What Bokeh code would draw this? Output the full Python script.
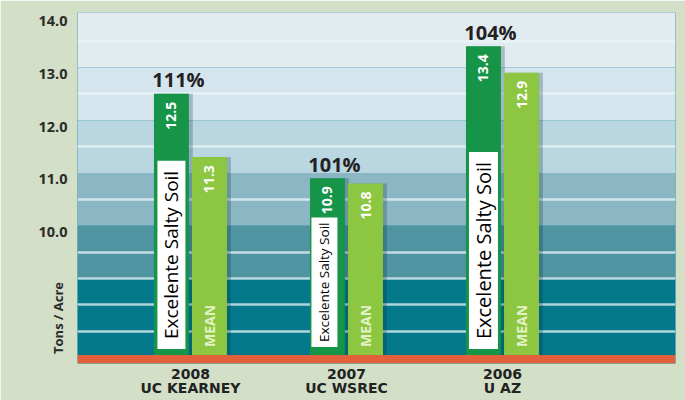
import math
from bokeh.plotting import figure
from bokeh.models import ColumnDataSource, FixedTicker, Range1d, CDSView, IndexFilter
from bokeh.core.properties import value
from bokeh.embed import file_html
from bokeh.resources import INLINE
from bokeh.transform import dodge

# ---- data ----
years = ["2008", "2007", "2006"]
sites = ["UC KEARNEY", "UC WSREC", "U AZ"]
variety_yield = [12.5, 10.9, 13.4]
mean_yield = [11.3, 10.8, 12.9]
variety_label = "Excelente Salty Soil"
mean_label = "MEAN"
y_tick_values = [10, 11, 12, 13, 14]
y_tick_labels = ["10.0", "11.0", "12.0", "13.0", "14.0"]
axis_title = "Tons / Acre"

# ---- background bands ----
band_tops = [14.1, 13, 12, 11, 10, 9]
band_bottoms = [13, 12, 11, 10, 9, 7.55]
band_colors = ["#e2ebef", "#d5e5ed", "#bad6e1", "#8bb7c4", "#5093a1", "#04798c"]
stripe_levels = [13.5, 12.5, 11.5, 10.5, 9.5, 9.0, 8.5, 8.0]
name_font_sizes = ["19px", "13.5px", "20px"]

pos = list(range(len(years)))
pct = [f"{round(v / m * 100)}%" for v, m in zip(variety_yield, mean_yield)]

X0, X1 = -0.724, 3.109
Y0, Y1 = 7.39, 14.04
BASE = 7.55
OFF = 0.122
W = 0.224
DARK = "#169447"
LIGHT = "#8dc641"

src = ColumnDataSource(dict(
    x=pos,
    variety=variety_yield,
    mean=mean_yield,
    vlab=[f"{v:.1f}" for v in variety_yield],
    mlab=[f"{v:.1f}" for v in mean_yield],
    pct=pct,
    vname=[variety_label] * len(pos),
    mname=[mean_label] * len(pos),
    vfs=name_font_sizes,
))

p = figure(width=685, height=400, x_range=Range1d(X0, X1), y_range=Range1d(Y0, Y1),
           output_backend="svg", toolbar_location=None,
           min_border_left=77, min_border_right=10, min_border_top=12, min_border_bottom=37)
p.background_fill_color = "#04798c"
p.border_fill_color = "#d3dfc7"
p.outline_line_color = None
p.xgrid.visible = False
p.ygrid.visible = False

# bands
p.quad(left=X0, right=X1, top=band_tops, bottom=band_bottoms,
       fill_color=band_colors, line_color=None)
p.hspan(y=stripe_levels, line_color="#e9f5f8", line_alpha=0.75, line_width=2.5)
p.quad(left=X0, right=X1, top=BASE, bottom=Y0, fill_color="#e2603c", line_color=None)

# shadows
p.vbar(x=dodge("x", -OFF + 0.025, range=p.x_range), top="variety", bottom=BASE, width=W,
       source=src, fill_color="#00303a", fill_alpha=0.25, line_color=None)
p.vbar(x=dodge("x", OFF + 0.025, range=p.x_range), top="mean", bottom=BASE, width=W,
       source=src, fill_color="#00303a", fill_alpha=0.25, line_color=None)
# bars
p.vbar(x=dodge("x", -OFF, range=p.x_range), top="variety", bottom=BASE, width=W,
       source=src, fill_color=DARK, line_color=None)
p.vbar(x=dodge("x", OFF, range=p.x_range), top="mean", bottom=BASE, width=W,
       source=src, fill_color=LIGHT, line_color=None)

# value labels inside bars
common = dict(angle=math.pi / 2, text_baseline="middle", text_color="white",
              text_font=value("Open Sans"), text_font_style="bold", text_font_size="14px", source=src)
p.text(x=dodge("x", -OFF, range=p.x_range), y="variety", text="vlab", text_align="right", y_offset=8, **common)
p.text(x=dodge("x", OFF, range=p.x_range), y="mean", text="mlab", text_align="right", y_offset=8, **common)
p.text(x=dodge("x", OFF, range=p.x_range), y=BASE, text="mname", text_align="left", y_offset=-8,
       angle=math.pi / 2, text_baseline="middle", text_color="#e2f1c8",
       text_font=value("Open Sans"), text_font_style="bold", text_font_size="14px", source=src)

# variety name boxes
name_style = dict(x=dodge("x", -OFF, range=p.x_range), y=BASE, text="vname", text_align="left",
                  angle=math.pi / 2, text_baseline="middle", text_color="black",
                  text_font=value("Open Sans"), text_font_size="vfs",
                  background_fill_color="white", source=src)
p.text(y_offset=-6, padding=(10, 1), view=CDSView(filter=IndexFilter([0, 2])), **name_style)
p.text(x_offset=-3, y_offset=-8, padding=(5, 4), view=CDSView(filter=IndexFilter([1])), **name_style)

# percentages
p.text(x=dodge("x", -OFF, range=p.x_range), y="variety", text="pct", text_align="center",
       text_baseline="alphabetic", x_offset=7, y_offset=-14, text_color="#222222",
       text_font=value("Open Sans"), text_font_style="bold", text_font_size="20px", source=src)

# axes
tick_pos = [round(t - 0.12, 2) for t in y_tick_values]
p.yaxis.ticker = FixedTicker(ticks=tick_pos)
p.yaxis.major_label_overrides = {t: l for t, l in zip(tick_pos, y_tick_labels)}
p.yaxis.major_label_text_font = "Open Sans"
p.yaxis.major_label_text_font_style = "bold"
p.yaxis.major_label_text_font_size = "14.5px"
p.yaxis.major_label_text_color = "#2b2b2b"
p.yaxis.major_label_standoff = 4
p.yaxis.axis_line_color = None
p.yaxis.major_tick_line_color = None
p.yaxis.minor_tick_line_color = None
p.yaxis.axis_label = "\u2003" * 7 + axis_title
p.yaxis.axis_label_align = "start"
p.yaxis.axis_label_standoff = -32
p.yaxis.axis_label_text_font = "Open Sans"
p.yaxis.axis_label_text_font_style = "bold"
p.yaxis.axis_label_text_font_size = "13px"
p.yaxis.axis_label_text_color = "#2b2b2b"

p.xaxis.ticker = FixedTicker(ticks=pos)
p.xaxis.major_label_overrides = {i: f"{y}\n{s}" for i, y, s in zip(pos, years, sites)}
p.xaxis.major_label_text_font = "DejaVu Sans"
p.xaxis.major_label_text_font_style = "bold"
p.xaxis.major_label_text_font_size = "14px"
p.xaxis.major_label_text_line_height = 0.9
p.xaxis.major_label_text_color = "#222222"
p.xaxis.major_label_standoff = -4
p.xaxis.axis_line_color = None
p.xaxis.major_tick_line_color = None
p.xaxis.minor_tick_line_color = None

open("out.html", "w").write(file_html(p, INLINE))
